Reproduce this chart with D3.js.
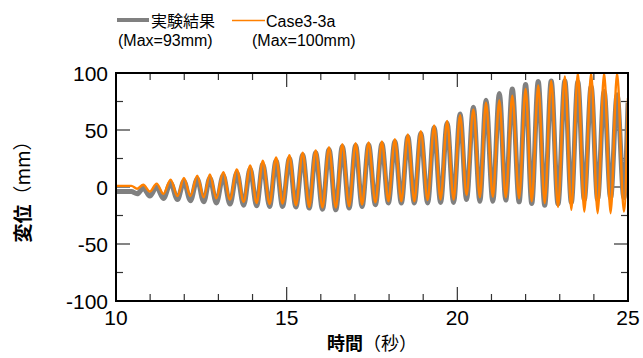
<!DOCTYPE html>
<html lang="ja">
<head>
  <meta charset="UTF-8" />
  <title>変位の時刻歴</title>
  <style>
    body {
      margin: 0;
      background: #fff;
    }
    svg {
      display: block;
      font-family: 'Liberation Sans', Arial, sans-serif;
    }
    .cjk {
      font-family: 'Noto Sans CJK JP', sans-serif;
    }
  </style>
</head>
<body>
  <svg id="chart" width="643" height="358"></svg>

  <script src="https://d3js.org/d3.v7.min.js"></script>
  <script>
    // Values (time in s, displacement in mm).
    // Start of record, before the oscillation builds up.
    const leadTimes = [10.0, 10.45, 10.62];
    const expLead = [-4, -4, -6];
    const simLead = [1, 1, -1.5];

    // Time of each crest and of the trough that follows it.
    const peakTimes = [10.80, 11.19, 11.60, 11.99, 12.38, 12.75, 13.14, 13.54, 13.93, 14.30,
                       14.69, 15.08, 15.47, 15.85, 16.24, 16.63, 17.02, 17.40, 17.79, 18.17,
                       18.55, 18.93, 19.32, 19.70, 20.08, 20.47, 20.84, 21.23, 21.61, 22.00,
                       22.37, 22.75, 23.15, 23.53, 23.92, 24.30, 24.68];
    const troughTimes = [10.99, 11.39, 11.80, 12.18, 12.57, 12.94, 13.34, 13.74, 14.12, 14.50,
                         14.88, 15.27, 15.66, 16.05, 16.44, 16.83, 17.21, 17.60, 17.98, 18.36,
                         18.74, 19.13, 19.51, 19.89, 20.27, 20.66, 21.04, 21.42, 21.81, 22.18,
                         22.56, 22.95, 23.34, 23.72, 24.11, 24.49, 24.88];

    // 実験結果 (gray)
    const expPeaks = [-1, 0, 3.5, 5, 7, 8, 10, 12.5, 16, 20, 23, 25,
                      28, 30, 33, 35.5, 36.5, 37, 38, 40, 44, 47, 52, 56,
                      64, 70, 76, 82, 86, 90, 92.5, 93, 93, 92, 88, 84, 81];
    const expTroughs = [-8, -10, -11, -12, -13, -14, -15, -16, -16.5, -17,
                        -17, -17.5, -18.5, -19.5, -20, -18.5, -17, -15.5, -14, -14,
                        -14, -14, -13.5, -13.5, -11, -12.5, -12.5, -11.5, -13, -14.5,
                        -16, -15, -13.5, -11, -11, -10, -9.5];

    // Case3-3a (orange)
    const simPeaks = [2, 3, 6.5, 8, 10, 11, 13, 15.5, 19, 23, 26, 28,
                      30, 32, 35, 37.5, 38.5, 39, 40, 42, 46, 49, 54, 58,
                      63, 68, 74, 76, 80, 86, 89, 93, 97, 100, 100, 100, 100];
    const simTroughs = [-4, -6, -8, -8, -9, -10, -11, -13, -14, -15,
                        -14.5, -16, -17.5, -18, -18, -17, -15.5, -13.5, -12.5, -12.5,
                        -12.5, -11.5, -11, -11, -7, -9, -8.5, -9, -10, -12.5,
                        -14, -17.5, -20, -21.5, -23, -23, -21.5];

    const endTime = 25.0;
    const expEnd = 74;
    const simEnd = 78;

    const xTicks = [10, 15, 20, 25];
    const yTicks = [-100, -50, 0, 50, 100];

    // Interleave lead-in, crests/troughs and the last sample into one series.
    function buildSeries(lead, peaks, troughs, last) {
      const pts = leadTimes.map((t, i) => ({ t: t, v: lead[i] }));
      peakTimes.forEach((t, i) => {
        pts.push({ t: t, v: peaks[i] });
        pts.push({ t: troughTimes[i], v: troughs[i] });
      });
      pts.push({ t: endTime, v: last });
      return pts;
    }
    const expData = buildSeries(expLead, expPeaks, expTroughs, expEnd);
    const simData = buildSeries(simLead, simPeaks, simTroughs, simEnd);

    const svg = d3.select("#chart");
    const margin = { top: 73, right: 15, bottom: 57, left: 116 };
    const width = 643 - margin.left - margin.right;
    const height = 358 - margin.top - margin.bottom;

    const x = d3.scaleLinear().domain([10, 25]).range([0, width]);
    const y = d3.scaleLinear().domain([-100, 100]).range([height, 0]);

    const g = svg.append("g")
                 .attr("transform", `translate(${margin.left},${margin.top})`);

    g.append("clipPath").attr("id", "plotClip")
     .append("rect").attr("width", width).attr("height", height);

    // Inward ticks on all four sides.
    const tickColor = "#333";
    const xMinor = d3.range(10, 25.01, 1);
    const yMinor = d3.range(-100, 100.01, 25);
    xMinor.forEach(t => {
      const len = xTicks.includes(t) ? 14 : 7;
      g.append("line").attr("x1", x(t)).attr("x2", x(t))
       .attr("y1", height).attr("y2", height - len)
       .attr("stroke", tickColor).attr("stroke-width", 1.2);
      g.append("line").attr("x1", x(t)).attr("x2", x(t))
       .attr("y1", 0).attr("y2", len)
       .attr("stroke", tickColor).attr("stroke-width", 1.2);
    });
    yMinor.forEach(v => {
      const len = yTicks.includes(v) ? 14 : 7;
      g.append("line").attr("x1", 0).attr("x2", len)
       .attr("y1", y(v)).attr("y2", y(v))
       .attr("stroke", tickColor).attr("stroke-width", 1.2);
      g.append("line").attr("x1", width).attr("x2", width - len)
       .attr("y1", y(v)).attr("y2", y(v))
       .attr("stroke", tickColor).attr("stroke-width", 1.2);
    });

    // Series.
    const line = d3.line()
                   .x(d => x(d.t))
                   .y(d => y(d.v))
                   .curve(d3.curveMonotoneX);

    const plot = g.append("g").attr("clip-path", "url(#plotClip)");
    plot.append("path").datum(expData)
        .attr("d", line)
        .attr("fill", "none")
        .attr("stroke", "#808080")
        .attr("stroke-width", 5)
        .attr("stroke-linejoin", "round");
    plot.append("path").datum(simData)
        .attr("d", line)
        .attr("fill", "none")
        .attr("stroke", "#ff8000")
        .attr("stroke-width", 2.4)
        .attr("stroke-linejoin", "round");

    // Frame.
    g.append("rect")
     .attr("width", width).attr("height", height)
     .attr("fill", "none").attr("stroke", "#000").attr("stroke-width", 2);

    // Tick labels.
    g.selectAll(".xlab").data(xTicks).enter().append("text")
     .attr("x", d => x(d)).attr("y", height + 24)
     .attr("text-anchor", "middle")
     .attr("font-size", 21).attr("fill", "#000")
     .text(d => d);
    g.selectAll(".ylab").data(yTicks).enter().append("text")
     .attr("x", -8).attr("y", d => y(d) + 7.5)
     .attr("text-anchor", "end")
     .attr("font-size", 21).attr("fill", "#000")
     .text(d => d);

    // Axis titles.
    const xt = svg.append("text").attr("class", "cjk")
                  .attr("x", margin.left + width / 2).attr("y", 350)
                  .attr("text-anchor", "middle").attr("font-size", 18);
    xt.append("tspan").attr("font-weight", "bold").text("時間");
    xt.append("tspan").text("（秒）");

    const yt = svg.append("text").attr("class", "cjk")
                  .attr("transform", `translate(30,${margin.top + y(0)}) rotate(-90)`)
                  .attr("text-anchor", "middle").attr("font-size", 19);
    yt.append("tspan").attr("font-weight", "bold").text("変位");
    yt.append("tspan").text("（mm）");

    // Legend.
    const legend = svg.append("g");
    legend.append("line").attr("x1", 117).attr("x2", 149).attr("y1", 20).attr("y2", 20)
          .attr("stroke", "#808080").attr("stroke-width", 4);
    legend.append("text").attr("class", "cjk").attr("x", 151).attr("y", 27)
          .attr("font-size", 16).text("実験結果");
    legend.append("text").attr("x", 118).attr("y", 46)
          .attr("font-size", 16).text("(Max=93mm)");
    legend.append("line").attr("x1", 232).attr("x2", 265).attr("y1", 20.5).attr("y2", 20.5)
          .attr("stroke", "#ff8000").attr("stroke-width", 1.5);
    legend.append("text").attr("x", 266).attr("y", 27)
          .attr("font-size", 16).text("Case3-3a");
    legend.append("text").attr("x", 252).attr("y", 46)
          .attr("font-size", 16).text("(Max=100mm)");
  </script>
</body>
</html>
